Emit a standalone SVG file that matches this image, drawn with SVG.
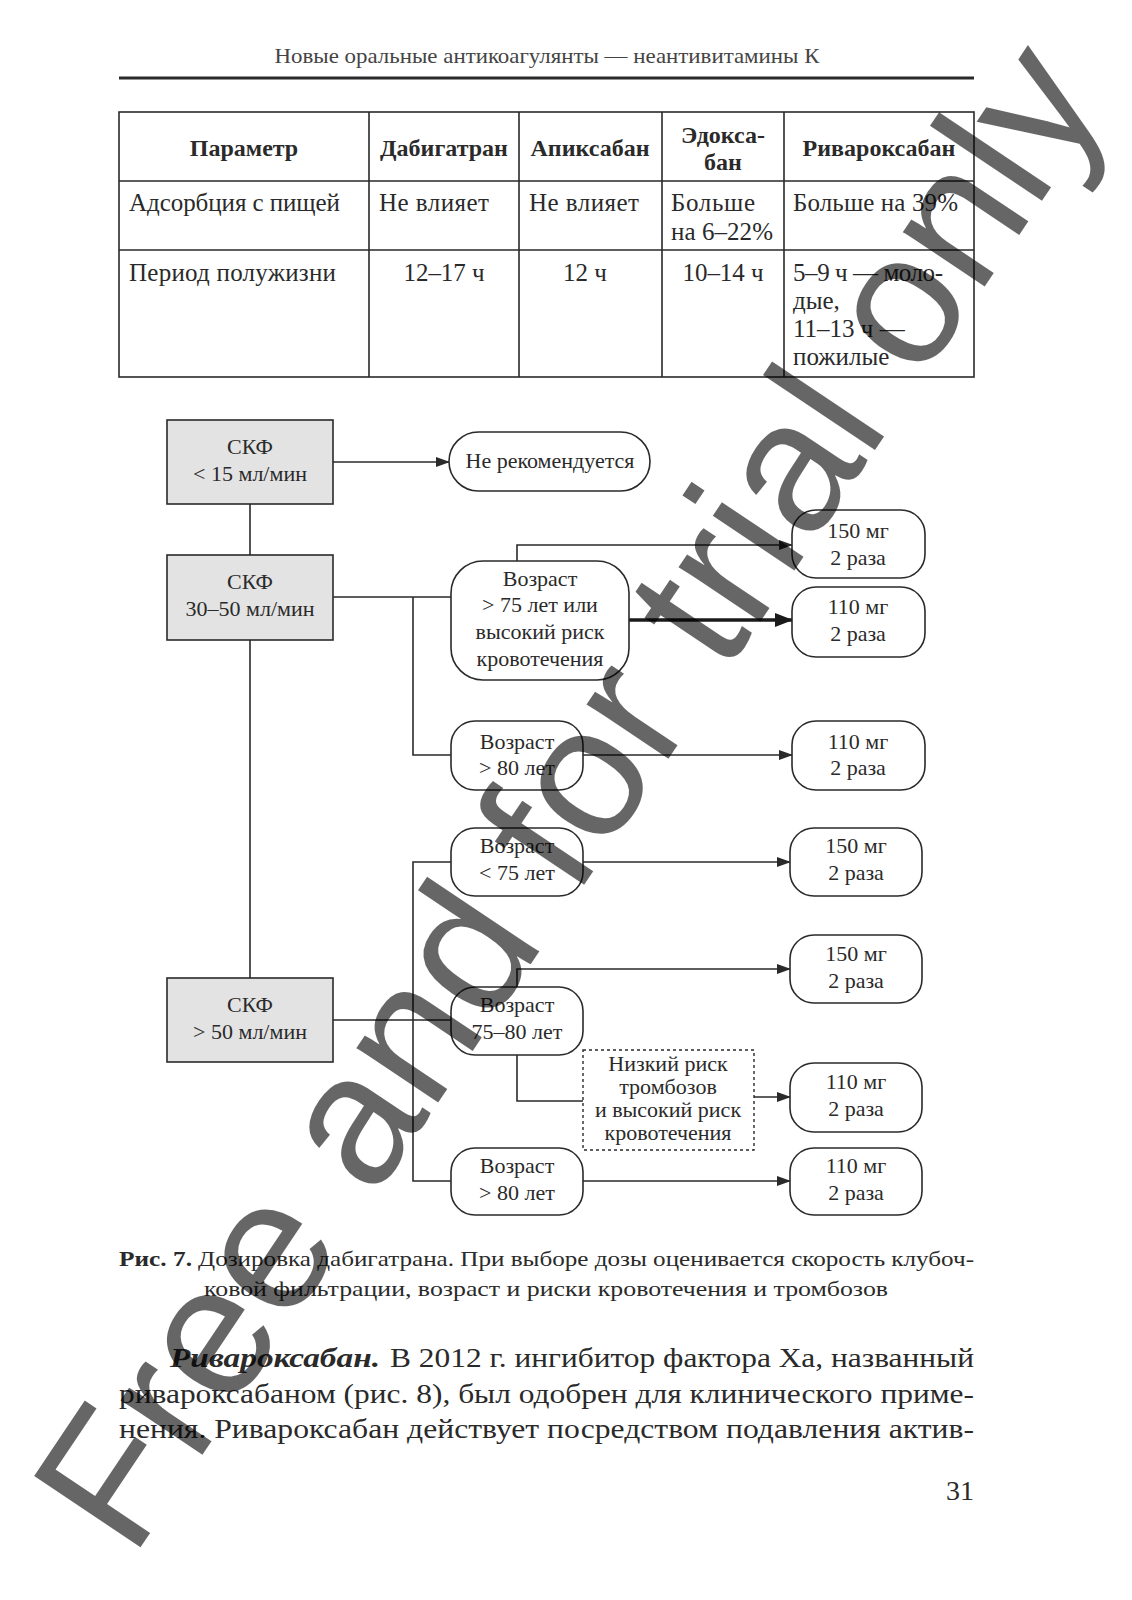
<svg xmlns="http://www.w3.org/2000/svg" width="1132" height="1600" viewBox="0 0 1132 1600">
<defs>
<style>
.pg{font-family:"Liberation Serif","DejaVu Serif",serif;fill:#2a2a2a}
.hd{font-size:22px;fill:#444}
.tb{font-size:25px}
.th{font-size:24px;font-weight:bold}
.fc{font-size:22px;text-anchor:middle}
.mid{text-anchor:middle}
.cap{font-size:22px}
.body{font-size:28px}
.ln{stroke:#2a2a2a;stroke-width:1.6;fill:none}
.bx{stroke:#2a2a2a;stroke-width:1.6;fill:#fff}
.gb{stroke:#2a2a2a;stroke-width:1.6;fill:#e3e3e3}
.db{stroke:#2a2a2a;stroke-width:1.4;fill:#fff;stroke-dasharray:3 3}
.wm{font-family:"Liberation Sans",Arial,sans-serif;font-size:186px;fill:#000;fill-opacity:0.6}
</style>
<marker id="ah" markerWidth="14" markerHeight="10" refX="13" refY="5" orient="auto" markerUnits="userSpaceOnUse">
<path d="M0,0 L14,5 L0,10 Z" fill="#2a2a2a"/>
</marker>
<marker id="ahb" markerWidth="18" markerHeight="14" refX="17" refY="7" orient="auto" markerUnits="userSpaceOnUse">
<path d="M0,0 L18,7 L0,14 Z" fill="#1a1a1a"/>
</marker>
</defs>
<rect width="1132" height="1600" fill="#fff"/>

<g id="header" class="pg">
<text class="hd mid" x="547" y="63" textLength="545" lengthAdjust="spacingAndGlyphs">Новые оральные антикоагулянты — неантивитамины К</text>
<line x1="119" y1="78" x2="974" y2="78" stroke="#2a2a2a" stroke-width="3"/>
</g>

<g id="table" class="pg">
<rect x="119" y="112" width="855" height="265" fill="none" stroke="#2a2a2a" stroke-width="1.6"/>
<path class="ln" d="M369,112V377M519,112V377M662,112V377M784,112V377M119,181H974M119,250H974"/>
<text class="th mid" x="244" y="156">Параметр</text>
<text class="th mid" x="444" y="156">Дабигатран</text>
<text class="th mid" x="590" y="156">Апиксабан</text>
<text class="th mid" x="723" y="143">Эдокса-</text>
<text class="th mid" x="723" y="170">бан</text>
<text class="th mid" x="879" y="156">Ривароксабан</text>
<text class="tb" x="129" y="211" textLength="211">Адсорбция с пищей</text>
<text class="tb" x="379" y="211" textLength="110">Не влияет</text>
<text class="tb" x="529" y="211" textLength="110">Не влияет</text>
<text class="tb" x="671" y="211" textLength="84">Больше</text>
<text class="tb" x="671" y="240" textLength="102">на 6–22%</text>
<text class="tb" x="793" y="211" textLength="165">Больше на 39%</text>
<text class="tb" x="129" y="281" textLength="207">Период полужизни</text>
<text class="tb mid" x="444" y="281" textLength="81">12–17 ч</text>
<text class="tb mid" x="585" y="281">12 ч</text>
<text class="tb mid" x="723" y="281" textLength="81">10–14 ч</text>
<text class="tb" x="793" y="281" textLength="150">5–9 ч — моло-</text>
<text class="tb" x="793" y="309">дые,</text>
<text class="tb" x="793" y="337">11–13 ч —</text>
<text class="tb" x="793" y="365">пожилые</text>
</g>

<g id="connectors">
<path class="ln" d="M333,462H449" marker-end="url(#ah)"/>
<path class="ln" d="M250,504V555M250,640V978"/>
<path class="ln" d="M333,597H451M413,597V755H451"/>
<path class="ln" d="M517,561V545H792" marker-end="url(#ah)"/>
<path d="M629,620H792" fill="none" stroke="#1a1a1a" stroke-width="3.5" marker-end="url(#ahb)"/>
<path class="ln" d="M583,755H792" marker-end="url(#ah)"/>
<path class="ln" d="M333,1020H451M451,862H413V1181H451"/>
<path class="ln" d="M583,862H790" marker-end="url(#ah)"/>
<path class="ln" d="M517,987V969H790" marker-end="url(#ah)"/>
<path class="ln" d="M517,1055V1101H583"/>
<path class="ln" d="M754,1097H790" marker-end="url(#ah)"/>
<path class="ln" d="M583,1181H790" marker-end="url(#ah)"/>
</g>

<g id="n-skf15" class="pg">
<rect class="gb" x="167" y="420" width="166" height="84"/>
<text class="fc" x="250" y="454">СКФ</text>
<text class="fc" x="250" y="481">&lt; 15 мл/мин</text>
</g>
<g id="n-skf30" class="pg">
<rect class="gb" x="167" y="555" width="166" height="85"/>
<text class="fc" x="250" y="589">СКФ</text>
<text class="fc" x="250" y="616">30–50 мл/мин</text>
</g>
<g id="n-skf50" class="pg">
<rect class="gb" x="167" y="978" width="166" height="84"/>
<text class="fc" x="250" y="1012">СКФ</text>
<text class="fc" x="250" y="1039">&gt; 50 мл/мин</text>
</g>
<g id="n-norec" class="pg">
<rect class="bx" x="449" y="432" width="201" height="59" rx="29.5"/>
<text class="fc" x="550" y="468">Не рекомендуется</text>
</g>
<g id="n-age75risk" class="pg">
<rect class="bx" x="451" y="561" width="178" height="119" rx="32"/>
<text class="fc" x="540" y="586">Возраст</text>
<text class="fc" x="540" y="612">&gt; 75 лет или</text>
<text class="fc" x="540" y="639">высокий риск</text>
<text class="fc" x="540" y="666">кровотечения</text>
</g>
<g id="n-age80a" class="pg">
<rect class="bx" x="451" y="721" width="132" height="69" rx="24"/>
<text class="fc" x="517" y="749">Возраст</text>
<text class="fc" x="517" y="775">&gt; 80 лет</text>
</g>
<g id="n-d1" class="pg">
<rect class="bx" x="792" y="510" width="133" height="68" rx="24"/>
<text class="fc" x="858" y="538">150 мг</text>
<text class="fc" x="858" y="565">2 раза</text>
</g>
<g id="n-d2" class="pg">
<rect class="bx" x="792" y="587" width="133" height="70" rx="24"/>
<text class="fc" x="858" y="614">110 мг</text>
<text class="fc" x="858" y="641">2 раза</text>
</g>
<g id="n-d3" class="pg">
<rect class="bx" x="792" y="721" width="133" height="69" rx="24"/>
<text class="fc" x="858" y="749">110 мг</text>
<text class="fc" x="858" y="775">2 раза</text>
</g>
<g id="n-age75" class="pg">
<rect class="bx" x="451" y="828" width="132" height="68" rx="24"/>
<text class="fc" x="517" y="853">Возраст</text>
<text class="fc" x="517" y="880">&lt; 75 лет</text>
</g>
<g id="n-age7580" class="pg">
<rect class="bx" x="451" y="987" width="132" height="68" rx="24"/>
<text class="fc" x="517" y="1012">Возраст</text>
<text class="fc" x="517" y="1039">75–80 лет</text>
</g>
<g id="n-age80b" class="pg">
<rect class="bx" x="451" y="1148" width="132" height="67" rx="24"/>
<text class="fc" x="517" y="1173">Возраст</text>
<text class="fc" x="517" y="1200">&gt; 80 лет</text>
</g>
<g id="n-lowrisk" class="pg">
<rect class="db" x="583" y="1050" width="171" height="100"/>
<text class="fc" x="668" y="1071">Низкий риск</text>
<text class="fc" x="668" y="1094">тромбозов</text>
<text class="fc" x="668" y="1117">и высокий риск</text>
<text class="fc" x="668" y="1140">кровотечения</text>
</g>
<g id="n-d4" class="pg">
<rect class="bx" x="790" y="828" width="132" height="68" rx="24"/>
<text class="fc" x="856" y="853">150 мг</text>
<text class="fc" x="856" y="880">2 раза</text>
</g>
<g id="n-d5" class="pg">
<rect class="bx" x="790" y="935" width="132" height="68" rx="24"/>
<text class="fc" x="856" y="961">150 мг</text>
<text class="fc" x="856" y="988">2 раза</text>
</g>
<g id="n-d6" class="pg">
<rect class="bx" x="790" y="1063" width="132" height="69" rx="24"/>
<text class="fc" x="856" y="1089">110 мг</text>
<text class="fc" x="856" y="1116">2 раза</text>
</g>
<g id="n-d7" class="pg">
<rect class="bx" x="790" y="1148" width="132" height="67" rx="24"/>
<text class="fc" x="856" y="1173">110 мг</text>
<text class="fc" x="856" y="1200">2 раза</text>
</g>

<g id="caption" class="pg">
<text class="cap" x="119" y="1266" font-weight="bold" textLength="73" lengthAdjust="spacingAndGlyphs">Рис. 7.</text>
<text class="cap" x="198" y="1266" textLength="776" lengthAdjust="spacingAndGlyphs">Дозировка дабигатрана. При выборе дозы оценивается скорость клубоч-</text>
<text class="cap mid" x="546" y="1296" textLength="684" lengthAdjust="spacingAndGlyphs">ковой фильтрации, возраст и риски кровотечения и тромбозов</text>
</g>

<g id="bodytext" class="pg">
<text class="body" x="170" y="1367" font-weight="bold" font-style="italic" textLength="210" lengthAdjust="spacingAndGlyphs">Ривароксабан.</text>
<text class="body" x="390" y="1367" textLength="584" lengthAdjust="spacingAndGlyphs">В 2012 г. ингибитор фактора Xa, названный</text>
<text class="body" x="119" y="1403" textLength="855" lengthAdjust="spacingAndGlyphs">ривароксабаном (рис. 8), был одобрен для клинического приме-</text>
<text class="body" x="119" y="1438" textLength="855" lengthAdjust="spacingAndGlyphs">нения. Ривароксабан действует посредством подавления актив-</text>
<text class="body" x="974" y="1500" text-anchor="end">31</text>
</g>

<g id="watermark">
<text class="wm" x="0" y="0" transform="translate(132,1560) rotate(-56.2)">Free and for trial only</text>
</g>
</svg>
